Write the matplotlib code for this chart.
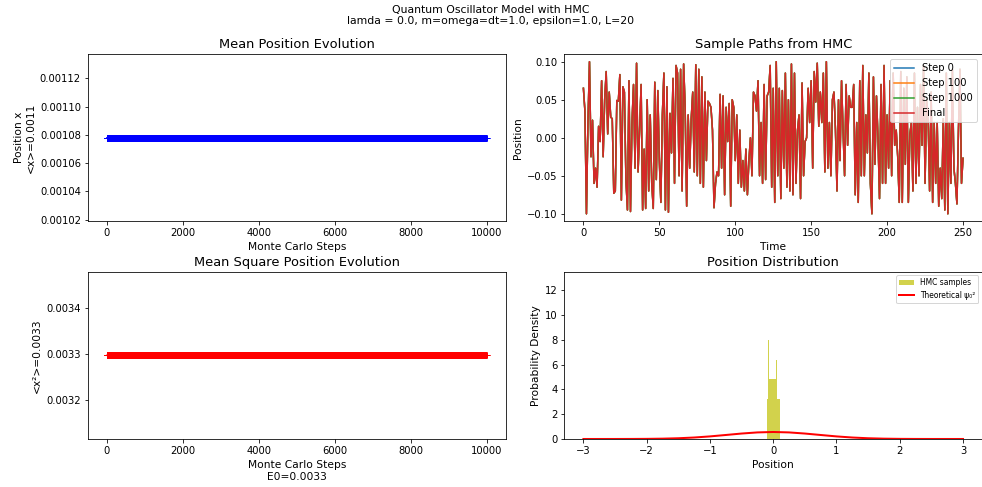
import numpy as np
import matplotlib
matplotlib.use("Agg")
import matplotlib.pyplot as plt

# values
mc_steps = np.arange(0, 10001, 1)
mean_x_value = 0.001078
mean_x2_value = 0.003297
mean_x = np.full(len(mc_steps), mean_x_value)
mean_x2 = np.full(len(mc_steps), mean_x2_value)
x2_ticks = [0.0032, 0.0033, 0.0034]

path = [
    0.065, 0.035, -0.100, 0.020, 0.100, -0.025, 0.023, -0.060, -0.040, -0.065,
    0.015, -0.005, 0.075, -0.025, 0.050, 0.087, 0.005, 0.060, 0.027, 0.025,
    -0.073, -0.070, 0.049, 0.048, 0.083, -0.082, 0.067, 0.060, -0.055, -0.095,
    0.075, -0.097, 0.020, 0.070, -0.040, 0.098, -0.045, 0.010, 0.070, -0.095,
    -0.015, -0.093, 0.050, -0.070, 0.030, -0.060, -0.093, 0.073, -0.055, 0.062,
    -0.030, -0.085, 0.030, 0.085, -0.095, 0.067, -0.098, 0.032, -0.020, 0.078,
    -0.060, 0.095, 0.085, -0.050, 0.090, -0.070, 0.097, 0.040, -0.090, 0.030,
    -0.040, 0.025, 0.060, -0.045, 0.096, -0.050, 0.090, -0.060, 0.080, -0.065,
    0.060, -0.030, 0.048, 0.045, 0.040, 0.010, -0.092, -0.060, -0.045, -0.050,
    0.057, -0.040, 0.055, -0.075, 0.040, -0.005, 0.045, -0.090, 0.050, 0.040,
    -0.030, 0.030, -0.060, 0.010, -0.065, -0.030, -0.070, -0.015, -0.075, -0.030,
    0.000, -0.050, 0.060, 0.055, 0.035, 0.075, -0.050, 0.020, -0.060, 0.070,
    -0.055, 0.055, 0.060, 0.095, -0.065, 0.065, -0.085, 0.100, -0.050, 0.065,
    -0.080, 0.062, -0.040, 0.085, -0.065, 0.050, -0.070, 0.097, -0.075, 0.085,
    -0.060, 0.010, 0.030, -0.080, 0.072, -0.050, -0.005, 0.000, 0.065, 0.020,
    0.075, -0.040, 0.087, 0.047, 0.098, 0.015, 0.060, 0.020, 0.085, -0.045,
    0.100, -0.040, 0.020, -0.050, 0.050, 0.060, 0.010, -0.070, 0.050, -0.030,
    0.075, 0.010, -0.050, 0.070, -0.010, 0.055, 0.040, 0.040, 0.070, -0.075,
    0.020, -0.085, 0.075, -0.050, 0.095, -0.050, 0.030, -0.020, 0.085, -0.060,
    -0.100, 0.080, -0.035, 0.055, 0.000, -0.080, 0.070, -0.060, 0.095, -0.060,
    0.030, -0.040, 0.075, -0.050, 0.085, -0.010, 0.010, -0.025, -0.085, 0.087,
    -0.085, 0.065, -0.035, 0.080, -0.085, 0.005, 0.020, -0.070, 0.085, -0.060,
    0.040, -0.050, 0.070, -0.010, 0.095, -0.060, 0.050, 0.030, -0.070, 0.060,
    -0.085, 0.020, -0.060, 0.020, -0.090, -0.040, -0.080, 0.025, -0.095, 0.085,
    -0.100, 0.020, -0.060, 0.090, -0.040, -0.060, -0.087, 0.010, 0.090, -0.060,
    -0.027,
]
path_labels = ["Step 0", "Step 100", "Step 1000", "Final"]

hist_edges = [-0.10, -0.08, -0.06, -0.04, -0.02, 0.00, 0.02, 0.04, 0.06, 0.08, 0.10]
hist_density = [3.2, 8.0, 4.8, 4.8, 4.8, 4.8, 4.8, 6.4, 3.2, 3.2]

theory_x = [-3.0, -2.75, -2.5, -2.25, -2.0, -1.75, -1.5, -1.25, -1.0, -0.75, -0.5, -0.25,
            0.0, 0.25, 0.5, 0.75, 1.0, 1.25, 1.5, 1.75, 2.0, 2.25, 2.5, 2.75, 3.0]
theory_psi2 = [0.0001, 0.0003, 0.0011, 0.0036, 0.010, 0.026, 0.059, 0.118, 0.208, 0.322, 0.439, 0.530,
               0.564, 0.530, 0.439, 0.322, 0.208, 0.118, 0.059, 0.026, 0.010, 0.0036, 0.0011, 0.0003, 0.0001]

plt.rcParams['axes.labelsize'] = 10.6
plt.rcParams['axes.titlesize'] = 13

fig, axes = plt.subplots(2, 2, figsize=(982 / 72, 487 / 72), dpi=72)
fig.subplots_adjust(left=0.0896, right=1.0, top=0.889, bottom=0.0986, wspace=0.141, hspace=0.30)
fig.suptitle("Quantum Oscillator Model with HMC\nlamda = 0.0, m=omega=dt=1.0, epsilon=1.0, L=20",
             fontsize=10.9, y=0.99)

# mean position
ax = axes[0, 0]
ax.plot(mc_steps, mean_x, 'b+-', markersize=6)
ax.set_title("Mean Position Evolution")
ax.set_xlabel("Monte Carlo Steps")
ax.set_ylabel("Position x\n<x>=%.4f" % mean_x_value)

# sample paths
ax = axes[0, 1]
t = np.arange(len(path))
for lab in path_labels:
    ax.plot(t, path, label=lab)
ax.set_title("Sample Paths from HMC")
ax.set_xlabel("Time")
ax.set_ylabel("Position")
ax.legend(loc="upper right")

# mean square position
ax = axes[1, 0]
ax.plot(mc_steps, mean_x2, 'r+-', markersize=6)
ax.set_yticks(x2_ticks)
ax.set_title("Mean Square Position Evolution")
ax.set_xlabel("Monte Carlo Steps\nE0=%.4f" % mean_x2_value)
ax.set_ylabel("<x²>=%.4f" % mean_x2_value)

# distribution
ax = axes[1, 1]
ax.stairs(hist_density, hist_edges, fill=True, color='y', alpha=0.7, label="HMC samples")
ax.plot(theory_x, theory_psi2, 'r-', linewidth=2, label="Theoretical ψ₀²")
ax.set_ylim(0, 13.5)
ax.set_title("Position Distribution")
ax.set_xlabel("Position")
ax.set_ylabel("Probability Density")
ax.legend(loc="upper right", fontsize=7.5)

fig.savefig("out.png", dpi=72)
